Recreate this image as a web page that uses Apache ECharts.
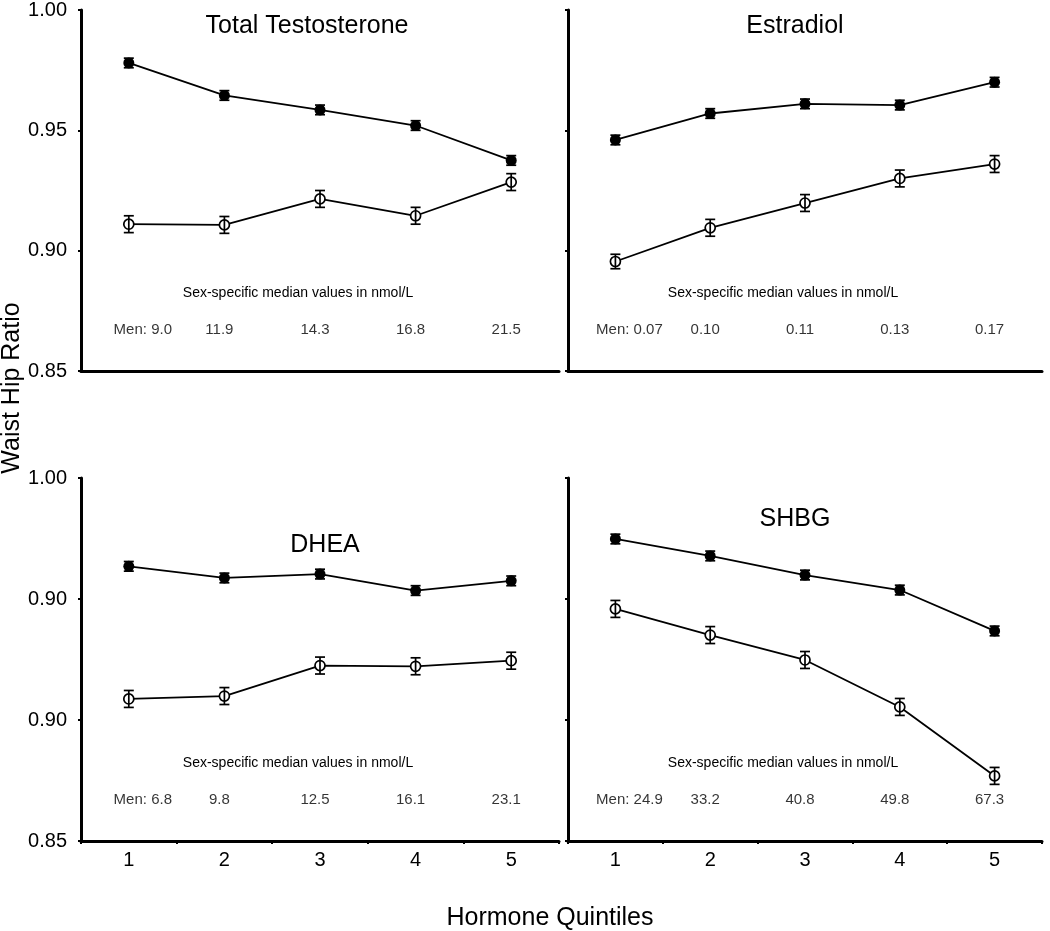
<!DOCTYPE html>
<html>
<head>
<meta charset="utf-8">
<script src="https://cdn.jsdelivr.net/npm/echarts@6/dist/echarts.min.js"></script>
<style>
html,body{margin:0;padding:0;background:#fff;}
#c{width:1050px;height:931px;}
</style>
</head>
<body>
<div id="c"></div>
<script>
// ---------------- data ----------------
const categories = ['1', '2', '3', '4', '5'];
const panelTitles = ['Total Testosterone', 'Estradiol', 'DHEA', 'SHBG'];
const topYTickLabels = ['0.85', '0.90', '0.95', '1.00'];
const bottomYTickLabels = ['0.85', '0.90', '0.90', '1.00'];
const medianCaption = 'Sex-specific median values in nmol/L';

// Total Testosterone
const ttMen = [0.978, 0.9645, 0.9585, 0.952, 0.9375];
const ttMenErr = [0.002, 0.002, 0.002, 0.002, 0.002];
const ttWomen = [0.911, 0.9107, 0.9215, 0.9145, 0.9285];
const ttWomenErr = [0.0035, 0.0035, 0.0035, 0.0035, 0.0035];
const ttMedians = ['Men: 9.0', '11.9', '14.3', '16.8', '21.5'];

// Estradiol
const e2Men = [0.946, 0.957, 0.961, 0.9605, 0.970];
const e2MenErr = [0.002, 0.002, 0.002, 0.002, 0.002];
const e2Women = [0.8955, 0.9095, 0.9198, 0.930, 0.936];
const e2WomenErr = [0.003, 0.0035, 0.0035, 0.0035, 0.0035];
const e2Medians = ['Men: 0.07', '0.10', '0.11', '0.13', '0.17'];

// DHEA
const dheaMen = [0.9635, 0.9587, 0.9603, 0.9535, 0.9575];
const dheaMenErr = [0.002, 0.002, 0.002, 0.002, 0.002];
const dheaWomen = [0.9087, 0.9099, 0.9225, 0.9222, 0.9245];
const dheaWomenErr = [0.0035, 0.0035, 0.0035, 0.0035, 0.0035];
const dheaMedians = ['Men: 6.8', '9.8', '12.5', '16.1', '23.1'];

// SHBG
const shbgMen = [0.9748, 0.9678, 0.9599, 0.9537, 0.9368];
const shbgMenErr = [0.002, 0.002, 0.002, 0.002, 0.002];
const shbgWomen = [0.9459, 0.9351, 0.9248, 0.9054, 0.8769];
const shbgWomenErr = [0.0035, 0.0035, 0.0035, 0.0035, 0.0035];
const shbgMedians = ['Men: 24.9', '33.2', '40.8', '49.8', '67.3'];

// ---------------- layout ----------------
const FONT = 'Liberation Sans, Arial, Helvetica, sans-serif';
const grids = [
  {left: 81, top: 10, width: 478, height: 361},
  {left: 568, top: 10, width: 474, height: 361},
  {left: 81, top: 478, width: 478, height: 363},
  {left: 568, top: 478, width: 474, height: 363}
];
const titlePos = [
  {x: 302, y: 22}, {x: 790, y: 22}, {x: 320, y: 541}, {x: 790, y: 515}
];
const CAPTION_VAL = 0.8823;
const MEN_VAL = 0.867;

const panels = [
  {men: ttMen, menErr: ttMenErr, women: ttWomen, womenErr: ttWomenErr, med: ttMedians, yl: topYTickLabels},
  {men: e2Men, menErr: e2MenErr, women: e2Women, womenErr: e2WomenErr, med: e2Medians, yl: topYTickLabels},
  {men: dheaMen, menErr: dheaMenErr, women: dheaWomen, womenErr: dheaWomenErr, med: dheaMedians, yl: bottomYTickLabels},
  {men: shbgMen, menErr: shbgMenErr, women: shbgWomen, womenErr: shbgWomenErr, med: shbgMedians, yl: bottomYTickLabels}
];

function errRender(params, api) {
  const x = api.value(0);
  const lo = api.coord([x, api.value(1)]);
  const hi = api.coord([x, api.value(2)]);
  const w = 5;
  const st = {stroke: '#000', lineWidth: 1.7};
  return {
    type: 'group',
    children: [
      {type: 'line', shape: {x1: lo[0], y1: lo[1], x2: hi[0], y2: hi[1]}, style: st},
      {type: 'line', shape: {x1: lo[0] - w, y1: lo[1], x2: lo[0] + w, y2: lo[1]}, style: st},
      {type: 'line', shape: {x1: hi[0] - w, y1: hi[1], x2: hi[0] + w, y2: hi[1]}, style: st}
    ]
  };
}

const axisLine = {show: true, lineStyle: {color: '#000', width: 3}};
const xAxes = [], yAxes = [], series = [], titles = [];

panels.forEach((p, i) => {
  const bottom = i >= 2;
  xAxes.push({
    type: 'category', gridIndex: i, data: categories, boundaryGap: true,
    axisLine: axisLine,
    axisTick: {show: bottom, length: 3, lineStyle: {color: '#000', width: 2}},
    axisLabel: {show: bottom, color: '#000', fontSize: 20, fontFamily: FONT, margin: 9},
    splitLine: {show: false}
  });
  yAxes.push({
    type: 'value', gridIndex: i, min: 0.85, max: 1.0, interval: 0.05,
    axisLine: axisLine,
    axisTick: {show: true, length: 3, lineStyle: {color: '#000', width: 2}},
    axisLabel: {
      show: i % 2 === 0, color: '#000', fontSize: 20, fontFamily: FONT, margin: 14,
      formatter: (v) => p.yl[Math.round((v - 0.85) / 0.05)]
    },
    splitLine: {show: false}
  });
  titles.push({
    text: panelTitles[i], left: titlePos[i].x, top: titlePos[i].y - 13, textAlign: 'center',
    textStyle: {color: '#000', fontSize: 25, fontWeight: 'normal', fontFamily: FONT}
  });
  series.push({
    type: 'line', xAxisIndex: i, yAxisIndex: i, data: p.men, z: 2,
    symbol: 'circle', symbolSize: 11, lineStyle: {color: '#000', width: 1.8},
    itemStyle: {color: '#000'}, animation: false
  });
  series.push({
    type: 'line', xAxisIndex: i, yAxisIndex: i, data: p.women, z: 2,
    symbol: 'circle', symbolSize: 10, lineStyle: {color: '#000', width: 1.8},
    itemStyle: {color: '#fff', borderColor: '#000', borderWidth: 1.7}, animation: false
  });
  series.push({
    type: 'custom', xAxisIndex: i, yAxisIndex: i, z: 3, renderItem: errRender, animation: false,
    data: p.men.map((v, k) => [k, v - p.menErr[k], v + p.menErr[k]])
      .concat(p.women.map((v, k) => [k, v - p.womenErr[k], v + p.womenErr[k]]))
  });
  // median value annotations
  series.push({
    type: 'scatter', xAxisIndex: i, yAxisIndex: i, symbolSize: 0, silent: true, animation: false,
    data: p.med.map((t, k) => [k, MEN_VAL]),
    label: {
      show: true, position: 'inside', color: '#000', fontSize: 15, fontFamily: FONT,
      formatter: (d) => p.med[d.dataIndex]
    },
    labelLayout: (params) => ({dx: params.dataIndex === 0 ? 14 : -5})
  });
});

const chart = echarts.init(document.getElementById('c'), null, {renderer: 'canvas'});
chart.setOption({
  backgroundColor: '#fff',
  animation: false,
  title: titles,
  grid: grids,
  xAxis: xAxes,
  yAxis: yAxes,
  series: series
});

// captions and axis names
const graphics = [];
grids.forEach((g, i) => {
  const pt = chart.convertToPixel({xAxisIndex: i, yAxisIndex: i}, [2, CAPTION_VAL]);
  graphics.push({
    type: 'text', x: pt[0] - 22, y: pt[1],
    style: {text: medianCaption, fill: '#000', font: '14px ' + FONT, textAlign: 'center', textVerticalAlign: 'middle'}
  });
});
graphics.push({
  type: 'text', x: 12, y: 388, rotation: Math.PI / 2,
  style: {text: 'Waist Hip Ratio', fill: '#000', font: '25px ' + FONT, textAlign: 'center', textVerticalAlign: 'middle'}
});
graphics.push({
  type: 'text', x: 550, y: 918,
  style: {text: 'Hormone Quintiles', fill: '#000', font: '25px ' + FONT, textAlign: 'center', textVerticalAlign: 'middle'}
});
chart.setOption({graphic: graphics});
</script>
</body>
</html>
